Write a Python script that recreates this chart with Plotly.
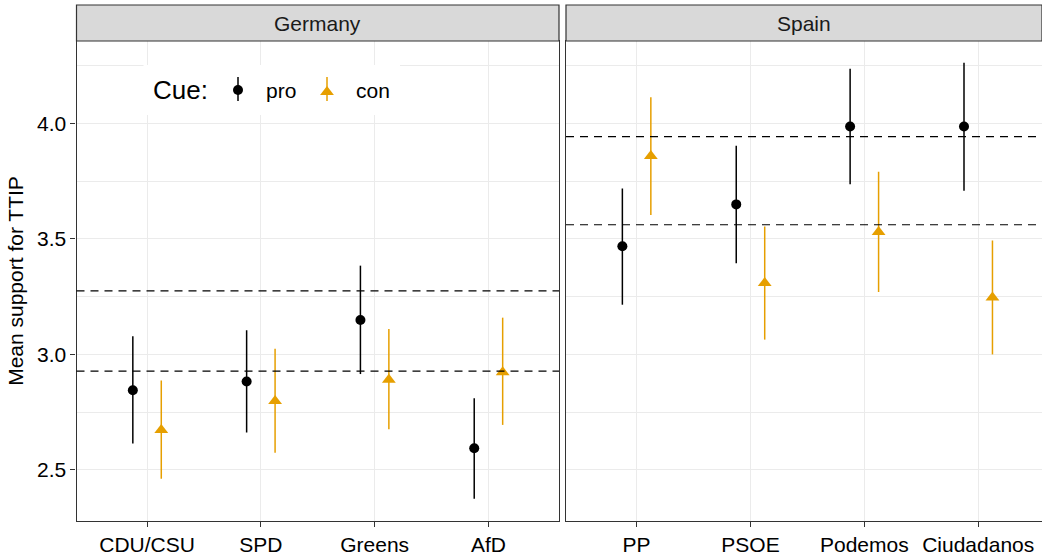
import plotly.graph_objects as go

# ---------------- data ----------------
germany_parties = ["CDU/CSU", "SPD", "Greens", "AfD"]
spain_parties = ["PP", "PSOE", "Podemos", "Ciudadanos"]

germany_pro_mean = [2.845, 2.883, 3.149, 2.594]
germany_pro_low = [2.614, 2.662, 2.915, 2.376]
germany_pro_high = [3.079, 3.105, 3.384, 2.810]
germany_con_mean = [2.673, 2.798, 2.890, 2.923]
germany_con_low = [2.462, 2.575, 2.676, 2.695]
germany_con_high = [2.887, 3.025, 3.110, 3.159]

spain_pro_mean = [3.468, 3.649, 3.986, 3.986]
spain_pro_low = [3.215, 3.394, 3.736, 3.708]
spain_pro_high = [3.718, 3.903, 4.236, 4.262]
spain_con_mean = [3.858, 3.309, 3.530, 3.246]
spain_con_low = [3.603, 3.064, 3.270, 3.000]
spain_con_high = [4.113, 3.553, 3.790, 3.493]

germany_ref = [3.275, 2.928]
spain_ref = [3.942, 3.561]

y_ticks = [2.5, 3.0, 3.5, 4.0]
y_minor = [2.75, 3.25, 3.75, 4.25]

# ---------------- style ----------------
W, H = 1042, 555
FONT = "Liberation Sans, Arial, sans-serif"
PRO_COL = "#000000"
CON_COL = "#E69F00"
BORDER = "#333333"
GRID = "#EBEBEB"
DODGE = 0.125

ger_px = (76.5, 559.0)
spa_px = (566.0, 1042.0)
plot_top, plot_bot = 41.0, 520.7
strip_top = 5.0

def px_x(p):
    return p / W

def px_y(p):
    return (H - p) / H

fig = go.Figure()

def add_series(xaxis, yaxis, n, mean, low, high, sign, color, symbol, size):
    xs = [i + 1 + sign * DODGE for i in range(n)]
    fig.add_trace(go.Scatter(
        x=xs, y=mean, mode="markers", xaxis=xaxis, yaxis=yaxis,
        marker=dict(color=color, symbol=symbol, size=size, line=dict(width=0)),
        error_y=dict(type="data", symmetric=False,
                     array=[h - m for h, m in zip(high, mean)],
                     arrayminus=[m - l for m, l in zip(mean, low)],
                     width=0, thickness=1.5, color=color),
        showlegend=False, hoverinfo="skip"))

add_series("x", "y", 4, germany_pro_mean, germany_pro_low, germany_pro_high, -1, PRO_COL, "circle", 10)
add_series("x", "y", 4, germany_con_mean, germany_con_low, germany_con_high, 1, CON_COL, "triangle-up", 12)
add_series("x2", "y2", 4, spain_pro_mean, spain_pro_low, spain_pro_high, -1, PRO_COL, "circle", 10)
add_series("x2", "y2", 4, spain_con_mean, spain_con_low, spain_con_high, 1, CON_COL, "triangle-up", 12)

# legend: white box + glyphs on an overlay axis in pixel units of the Germany panel
fig.add_trace(go.Scatter(
    x=[143.5, 400, 400, 143.5, 143.5], y=[65, 65, 115, 115, 65], mode="lines",
    xaxis="x3", yaxis="y3", fill="toself", fillcolor="white", line=dict(width=0, color="white"),
    showlegend=False, hoverinfo="skip"))
fig.add_trace(go.Scatter(
    x=[238], y=[90], mode="markers", xaxis="x3", yaxis="y3",
    marker=dict(color=PRO_COL, symbol="circle", size=10),
    error_y=dict(type="data", symmetric=False, array=[11], arrayminus=[13], width=0,
                 thickness=1.5, color=PRO_COL),
    showlegend=False, hoverinfo="skip"))
fig.add_trace(go.Scatter(
    x=[327], y=[92], mode="markers", xaxis="x3", yaxis="y3",
    marker=dict(color=CON_COL, symbol="triangle-up", size=12),
    error_y=dict(type="data", symmetric=False, array=[9], arrayminus=[15], width=0,
                 thickness=1.5, color=CON_COL),
    showlegend=False, hoverinfo="skip"))

shapes = []
# reference dashed lines
for v in germany_ref:
    shapes.append(dict(type="line", xref="x domain", yref="y", x0=0, x1=1, y0=v, y1=v,
                       line=dict(color="black", width=1.2, dash="8px,6px"), layer="above"))
for v in spain_ref:
    shapes.append(dict(type="line", xref="x2 domain", yref="y2", x0=0, x1=1, y0=v, y1=v,
                       line=dict(color="black", width=1.2, dash="8px,6px"), layer="above"))

# strips
for (a, b) in (ger_px, spa_px):
    shapes.append(dict(type="rect", xref="paper", yref="paper",
                       x0=px_x(a), x1=px_x(b), y0=px_y(plot_top), y1=px_y(strip_top),
                       fillcolor="#D9D9D9", line=dict(color=BORDER, width=1.2), layer="above"))

annotations = [
    dict(text="Germany", xref="paper", yref="paper", x=px_x(sum(ger_px) / 2),
         y=px_y((plot_top + strip_top) / 2), showarrow=False,
         font=dict(family=FONT, size=21, color="#1A1A1A"), xanchor="center", yanchor="middle"),
    dict(text="Spain", xref="paper", yref="paper", x=px_x(sum(spa_px) / 2),
         y=px_y((plot_top + strip_top) / 2), showarrow=False,
         font=dict(family=FONT, size=21, color="#1A1A1A"), xanchor="center", yanchor="middle"),
    dict(text="Mean support for TTIP", xref="paper", yref="paper", x=px_x(16),
         y=px_y((plot_top + plot_bot) / 2), textangle=-90, showarrow=False,
         font=dict(family=FONT, size=21, color="black"), xanchor="center", yanchor="middle"),
    dict(text="Cue:", xref="paper", yref="paper", x=px_x(151), y=px_y(90), showarrow=False,
         font=dict(family=FONT, size=26, color="black"), xanchor="left", yanchor="middle"),
    dict(text="pro", xref="paper", yref="paper", x=px_x(264), y=px_y(90), showarrow=False,
         font=dict(family=FONT, size=21, color="black"), xanchor="left", yanchor="middle"),
    dict(text="con", xref="paper", yref="paper", x=px_x(354), y=px_y(90), showarrow=False,
         font=dict(family=FONT, size=21, color="black"), xanchor="left", yanchor="middle"),
]

y_range = [2.2805, 4.356]
common_x = dict(tickmode="array", tickvals=[1, 2, 3, 4], showgrid=True, gridcolor=GRID, gridwidth=1,
                zeroline=False, showline=True, mirror=True, linecolor=BORDER, linewidth=1.2,
                ticks="outside", ticklen=5, tickwidth=1.2, tickcolor=BORDER,
                tickfont=dict(family=FONT, size=21, color="black"), fixedrange=True,
                automargin=False)
common_y = dict(range=y_range, tickmode="array", tickvals=y_ticks, tickformat=".1f",
                showgrid=True, gridcolor=GRID, gridwidth=1.2,
                minor=dict(tickmode="array", tickvals=y_minor, showgrid=True, gridcolor=GRID,
                           gridwidth=0.6),
                zeroline=False, showline=True, mirror=True, linecolor=BORDER, linewidth=1.2,
                tickfont=dict(family=FONT, size=21, color="black"), fixedrange=True,
                automargin=False)

fig.update_layout(
    width=W, height=H, autosize=False,
    margin=dict(l=0, r=0, t=0, b=0, pad=0),
    paper_bgcolor="white", plot_bgcolor="white",
    showlegend=False,
    xaxis=dict(domain=[px_x(ger_px[0]), px_x(ger_px[1])], range=[0.38, 4.62],
               ticktext=germany_parties, anchor="y", **common_x),
    yaxis=dict(domain=[px_y(plot_bot), px_y(plot_top)], anchor="x",
               ticks="outside", ticklen=5, tickwidth=1.2, tickcolor=BORDER,
               showticklabels=True, **common_y),
    xaxis2=dict(domain=[px_x(spa_px[0]), px_x(spa_px[1])], range=[0.38, 4.56],
                ticktext=spain_parties, anchor="y2", **common_x),
    yaxis2=dict(domain=[px_y(plot_bot), px_y(plot_top)], anchor="x2",
                ticks="", showticklabels=False, **common_y),
    xaxis3=dict(overlaying="x", range=[ger_px[0], ger_px[1]], visible=False, fixedrange=True),
    yaxis3=dict(overlaying="y", range=[plot_bot, plot_top], visible=False, fixedrange=True),
    shapes=shapes,
    annotations=annotations,
)

fig.write_html("out.html", config={"displayModeBar": False},
               post_script="document.body.style.margin='0px';document.body.style.overflow='hidden';")
